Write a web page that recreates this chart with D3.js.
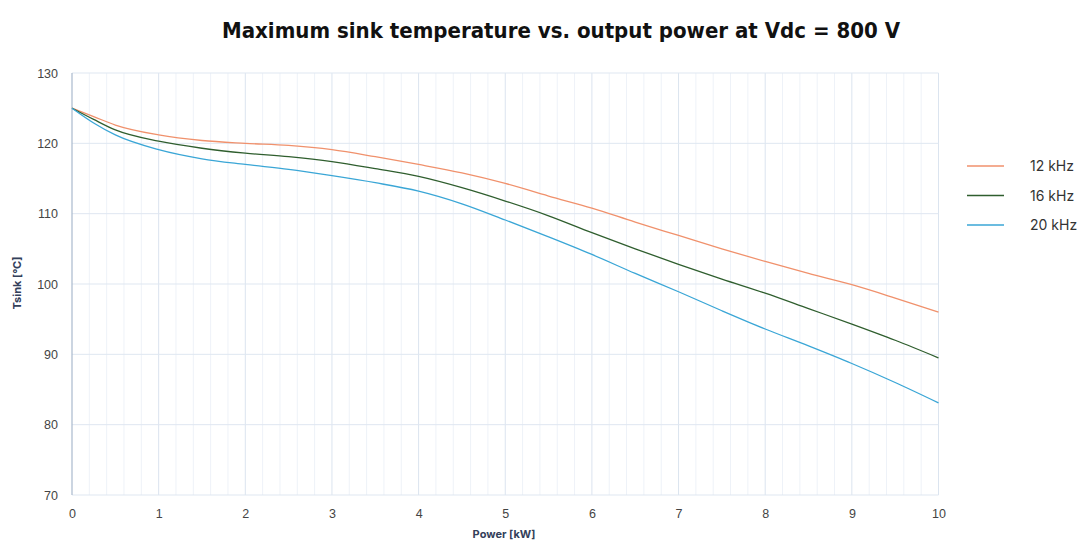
<!DOCTYPE html>
<html>
<head>
<meta charset="utf-8">
<script src="https://cdn.jsdelivr.net/npm/d3@7"></script>
<style>
  body { margin: 0; background: #fff; }
  svg { display: block; }
</style>
</head>
<body>
<div id="chart"></div>
<script>
// power values [kW]
const power = [0, 0.25, 0.5, 1, 1.5, 2, 2.5, 3, 3.5, 4, 4.5, 5, 5.5, 6, 6.5, 7, 7.5, 8, 8.5, 9, 9.5, 10];
// max sink temperature [°C] per switching frequency
const t12 = [125, 123.8, 122.6, 121.2, 120.4, 120.0, 119.7, 119.1, 118.1, 117.0, 115.8, 114.3, 112.5, 110.8, 108.8, 106.9, 105.0, 103.2, 101.5, 99.9, 98.0, 96.0];
const t16 = [125, 123.4, 121.9, 120.3, 119.3, 118.6, 118.1, 117.4, 116.4, 115.3, 113.7, 111.8, 109.7, 107.3, 105.0, 102.8, 100.7, 98.7, 96.5, 94.3, 92.0, 89.5];
const t20 = [125, 122.9, 121.2, 119.1, 117.8, 117.0, 116.3, 115.4, 114.4, 113.2, 111.4, 109.1, 106.7, 104.2, 101.5, 98.9, 96.2, 93.6, 91.2, 88.7, 86.0, 83.1];
const seriesNames = ["12 kHz", "16 kHz", "20 kHz"];
const xTicks = [0, 1, 2, 3, 4, 5, 6, 7, 8, 9, 10];
const yTicks = [70, 80, 90, 100, 110, 120, 130];

const series = [
  { name: seriesNames[0], values: t12, color: "#f0916c" },
  { name: seriesNames[1], values: t16, color: "#2f5e2e" },
  { name: seriesNames[2], values: t20, color: "#3aa6d6" }
];

const W = 1083, H = 545;
const margin = { top: 73, right: 145, bottom: 50, left: 72 };
const width = 938.5 - margin.left, height = 495 - margin.top;

const svg = d3.select("#chart").append("svg")
    .attr("width", W).attr("height", H)
    .style("font-family", "Inter, 'Noto Sans', sans-serif");

const g = svg.append("g").attr("transform", "translate(" + margin.left + "," + margin.top + ")");

const x = d3.scaleLinear().domain([0, 10]).range([0, width]);
const y = d3.scaleLinear().domain([70, 130]).range([height, 0]);

// minor vertical grid
g.append("g").selectAll("line")
    .data(d3.range(0, 10.001, 0.2).filter(v => Math.abs(v - Math.round(v)) > 0.01))
    .enter().append("line")
    .attr("x1", d => x(d)).attr("x2", d => x(d))
    .attr("y1", 0).attr("y2", height)
    .attr("stroke", "#eef2f8").attr("stroke-width", 1);

// major vertical grid
g.append("g").selectAll("line")
    .data(xTicks.slice(1))
    .enter().append("line")
    .attr("x1", d => x(d)).attr("x2", d => x(d))
    .attr("y1", 0).attr("y2", height)
    .attr("stroke", "#dbe4ef").attr("stroke-width", 1);

// horizontal grid
g.append("g").selectAll("line")
    .data(yTicks)
    .enter().append("line")
    .attr("x1", 0).attr("x2", width)
    .attr("y1", d => y(d)).attr("y2", d => y(d))
    .attr("stroke", "#dfe7f1").attr("stroke-width", 1);

// left axis line
g.append("line")
    .attr("x1", 0).attr("x2", 0).attr("y1", 0).attr("y2", height)
    .attr("stroke", "#a9b9cd").attr("stroke-width", 1.2);

// axes (labels only)
const xAxis = g.append("g")
    .attr("transform", "translate(0," + height + ")")
    .call(d3.axisBottom(x).tickValues(xTicks).tickSize(0).tickPadding(14).tickFormat(d3.format("d")));
const yAxis = g.append("g")
    .call(d3.axisLeft(y).tickValues(yTicks).tickSize(0).tickPadding(14).tickFormat(d3.format("d")));
[xAxis, yAxis].forEach(a => {
  a.select(".domain").remove();
  a.selectAll("text").attr("fill", "#444").style("font-size", "12.5px").style("font-family", "'Liberation Sans', Arial, sans-serif");
});

const line = d3.line()
    .x((d, i) => x(power[i]))
    .y(d => y(d))
    .curve(d3.curveMonotoneX);

g.selectAll(".series")
    .data(series)
    .enter().append("path")
    .attr("class", "series")
    .attr("d", d => line(d.values))
    .attr("fill", "none")
    .attr("stroke", d => d.color)
    .attr("stroke-width", 1.3);

// title
svg.append("text")
    .attr("x", 561).attr("y", 38)
    .attr("text-anchor", "middle")
    .attr("textLength", 678).attr("lengthAdjust", "spacingAndGlyphs")
    .style("font-family", "'DejaVu Sans Condensed', 'Liberation Sans Narrow', Roboto, sans-serif")
    .style("font-weight", "bold").style("font-size", "22px")
    .attr("fill", "#111")
    .text("Maximum sink temperature vs. output power at Vdc = 800 V");

// axis titles
svg.append("text")
    .attr("x", 504).attr("y", 538)
    .attr("text-anchor", "middle")
    .style("font-weight", "bold").style("font-size", "11px")
    .attr("fill", "#33405a")
    .text("Power [kW]");
svg.append("text")
    .attr("transform", "translate(21,283) rotate(-90)")
    .attr("text-anchor", "middle")
    .style("font-weight", "bold").style("font-size", "11px")
    .attr("fill", "#33405a")
    .text("Tsink [°C]");

// legend
const legend = svg.append("g").attr("transform", "translate(967,166)");
const item = legend.selectAll("g")
    .data(series)
    .enter().append("g")
    .attr("transform", (d, i) => "translate(0," + (i * 29.5) + ")");
item.append("line")
    .attr("x1", 0).attr("x2", 37).attr("y1", 0).attr("y2", 0)
    .attr("stroke", d => d.color).attr("stroke-width", 1.3);
item.append("text")
    .attr("x", 63).attr("y", 5)
    .style("font-size", "14px")
    .attr("fill", "#333")
    .text(d => d.name);
</script>
</body>
</html>
